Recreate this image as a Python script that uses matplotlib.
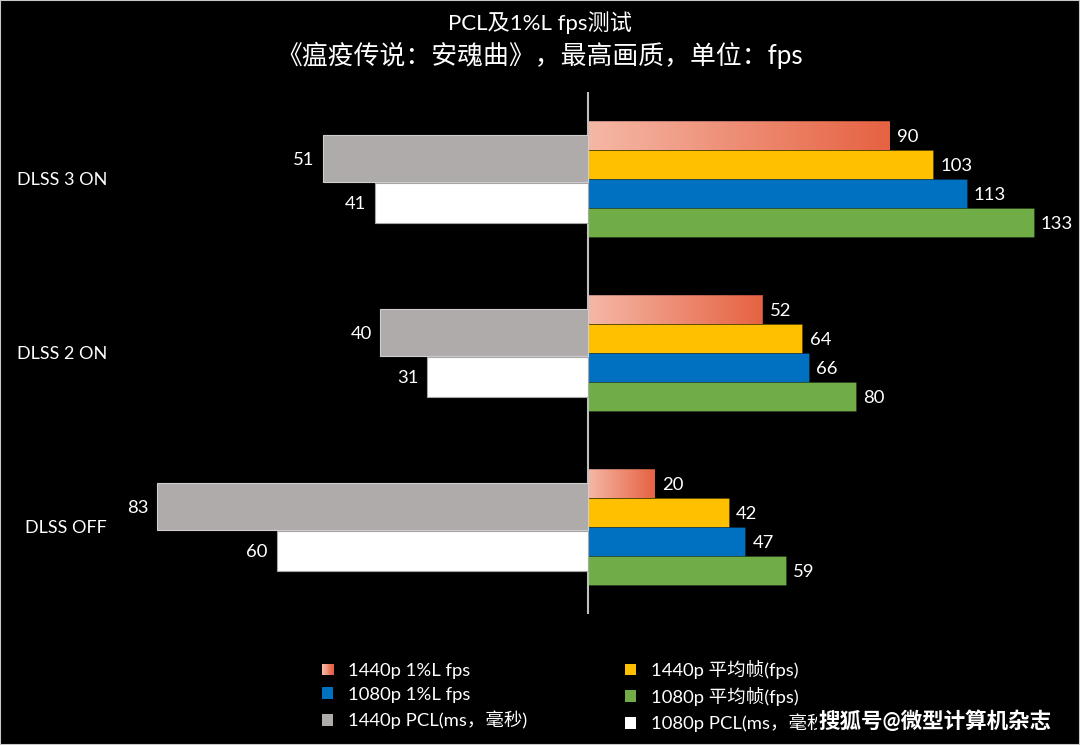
import numpy as np
import matplotlib
matplotlib.use("Agg")
import matplotlib.pyplot as plt
from matplotlib.patches import Rectangle
from matplotlib.legend_handler import HandlerBase

plt.rcParams['font.family'] = ['Lato', 'Noto Sans CJK SC', 'DejaVu Sans']

# data
categories = ["DLSS 3 ON", "DLSS 2 ON", "DLSS OFF"]
fps_1440_low = [90, 52, 20]
fps_1440_avg = [103, 64, 42]
fps_1080_low = [113, 66, 47]
fps_1080_avg = [133, 80, 59]
pcl_1440 = [51, 40, 83]
pcl_1080 = [41, 31, 60]

title = "PCL及1%L fps测试"
subtitle = "《瘟疫传说：安魂曲》，最高画质，单位：fps"
watermark = "搜狐号@微型计算机杂志"

GRAD_L = np.array([0xF5, 0xB8, 0xA6]) / 255
GRAD_R = np.array([0xE6, 0x62, 0x42]) / 255
YELLOW = "#FFC000"
BLUE = "#0070C0"
GREEN = "#70AD47"
GREY = "#AFABAB"
TXT = "#FFFFFF"
FS = 13.3


def gradient_img(n=256):
    t = np.linspace(0, 1, n)[None, :, None]
    return GRAD_L[None, None, :] * (1 - t) + GRAD_R[None, None, :] * t


class GradHandler(HandlerBase):
    def create_artists(self, legend, orig_handle, xdescent, ydescent,
                       width, height, fontsize, trans):
        arts = []
        n = 12
        for i in range(n):
            c = GRAD_L * (1 - i / (n - 1)) + GRAD_R * (i / (n - 1))
            r = Rectangle((-xdescent + width * i / n, -ydescent), width / n + 0.3,
                          height, facecolor=c, edgecolor='none', transform=trans)
            arts.append(r)
        return arts


fig = plt.figure(figsize=(10.8, 7.45), dpi=100, facecolor='black')
H = 745.0
ax = fig.add_axes([0, 1 - 614 / H, 1, (614 - 92) / H])
ax.set_facecolor('black')
ax2 = ax.twiny()

y = np.arange(len(categories))
h = 0.168
offs = [-1.5 * h, -0.5 * h, 0.5 * h, 1.5 * h]

series = [(fps_1440_low, None), (fps_1440_avg, YELLOW),
          (fps_1080_low, BLUE), (fps_1080_avg, GREEN)]
img = gradient_img()
for (vals, col), off in zip(series, offs):
    bars = ax.barh(y + off, vals, height=h,
                   color=col if col else 'none',
                   edgecolor=(0, 0, 0, 0.25), linewidth=0.6, zorder=2)
    for b, v in zip(bars, vals):
        if col is None:
            x0, y0 = b.get_x(), b.get_y()
            im = ax.imshow(img, extent=(x0, x0 + b.get_width(), y0 + b.get_height(), y0),
                           aspect='auto', zorder=1.5, interpolation='bilinear')
            im.set_clip_path(b)
        ax.text(b.get_width() + 2.2, b.get_y() + b.get_height() / 2 + 0.008, str(v),
                color=TXT, fontsize=FS, va='center', ha='left', zorder=3)

# left side: PCL (separate scale)
hg, hw = 0.271, 0.233
gb = ax2.barh(y - 0.116, [-v for v in pcl_1440], height=hg, color=GREY,
              edgecolor="#D0CECE", linewidth=0.8, zorder=2)
wb = ax2.barh(y + 0.137, [-v for v in pcl_1080], height=hw, color='white',
              edgecolor="#A6A6A6", linewidth=0.8, zorder=2)
for bars, vals in ((gb, pcl_1440), (wb, pcl_1080)):
    for b, v in zip(bars, vals):
        ax2.text(b.get_x() + b.get_width() - 1.7, b.get_y() + b.get_height() / 2 + 0.008,
                 str(v), color=TXT, fontsize=FS, va='center', ha='right', zorder=3)

ax.set_xlim(-588 / 3.35, 492 / 3.35)
ax2.set_xlim(-588 / 5.19, 492 / 5.19)
ax.set_ylim(2.5, -0.5)
ax.axvline(0, color="#BFBFBF", lw=1.5, zorder=4)
for a in (ax, ax2):
    a.axis('off')

for yi, c in zip(y, categories):
    ax.text(107 / 1080, yi + 0.008, c, transform=ax.get_yaxis_transform(),
            color=TXT, fontsize=13, ha='right', va='center')

fig.text(0.5, 1 - 23 / H, title, color=TXT, fontsize=16, ha='center', va='center')
fig.text(0.5, 1 - 55 / H, subtitle, color=TXT, fontsize=18.6, ha='center', va='center')

# legend
hl_grad = Rectangle((0, 0), 1, 1)
hl_blue = Rectangle((0, 0), 1, 1, facecolor=BLUE)
hl_grey = Rectangle((0, 0), 1, 1, facecolor=GREY)
hl_yel = Rectangle((0, 0), 1, 1, facecolor=YELLOW)
hl_green = Rectangle((0, 0), 1, 1, facecolor=GREEN)
hl_white = Rectangle((0, 0), 1, 1, facecolor='white')
handles = [hl_grad, hl_blue, hl_grey, hl_yel, hl_green, hl_white]
labels = ["1440p 1%L fps", "1080p 1%L fps", "1440p PCL(ms，毫秒)",
          "1440p 平均帧(fps)", "1080p 平均帧(fps)", "1080p PCL(ms，毫秒)"]
leg = fig.legend(handles, labels, ncol=2, loc='upper left',
                 bbox_to_anchor=(322 / 1080, 1 - 660 / H), frameon=False,
                 handler_map={hl_grad: GradHandler()},
                 handlelength=0.6, handleheight=0.6, handletextpad=0.8,
                 columnspacing=5.3, labelspacing=0.42, fontsize=FS,
                 labelcolor=TXT, borderaxespad=0, borderpad=0)

fig.text(1052 / 1080, 1 - 721 / H, watermark, color='white', fontsize=15.5,
         fontweight='bold', ha='right', va='center',
         bbox=dict(facecolor='black', edgecolor='none', pad=1.5), zorder=10)

fig.add_artist(Rectangle((0, 0), 1, 1, transform=fig.transFigure, fill=False,
                         edgecolor="#C8C8C8", linewidth=1.5))

fig.savefig("out.png", dpi=100, facecolor='black')
